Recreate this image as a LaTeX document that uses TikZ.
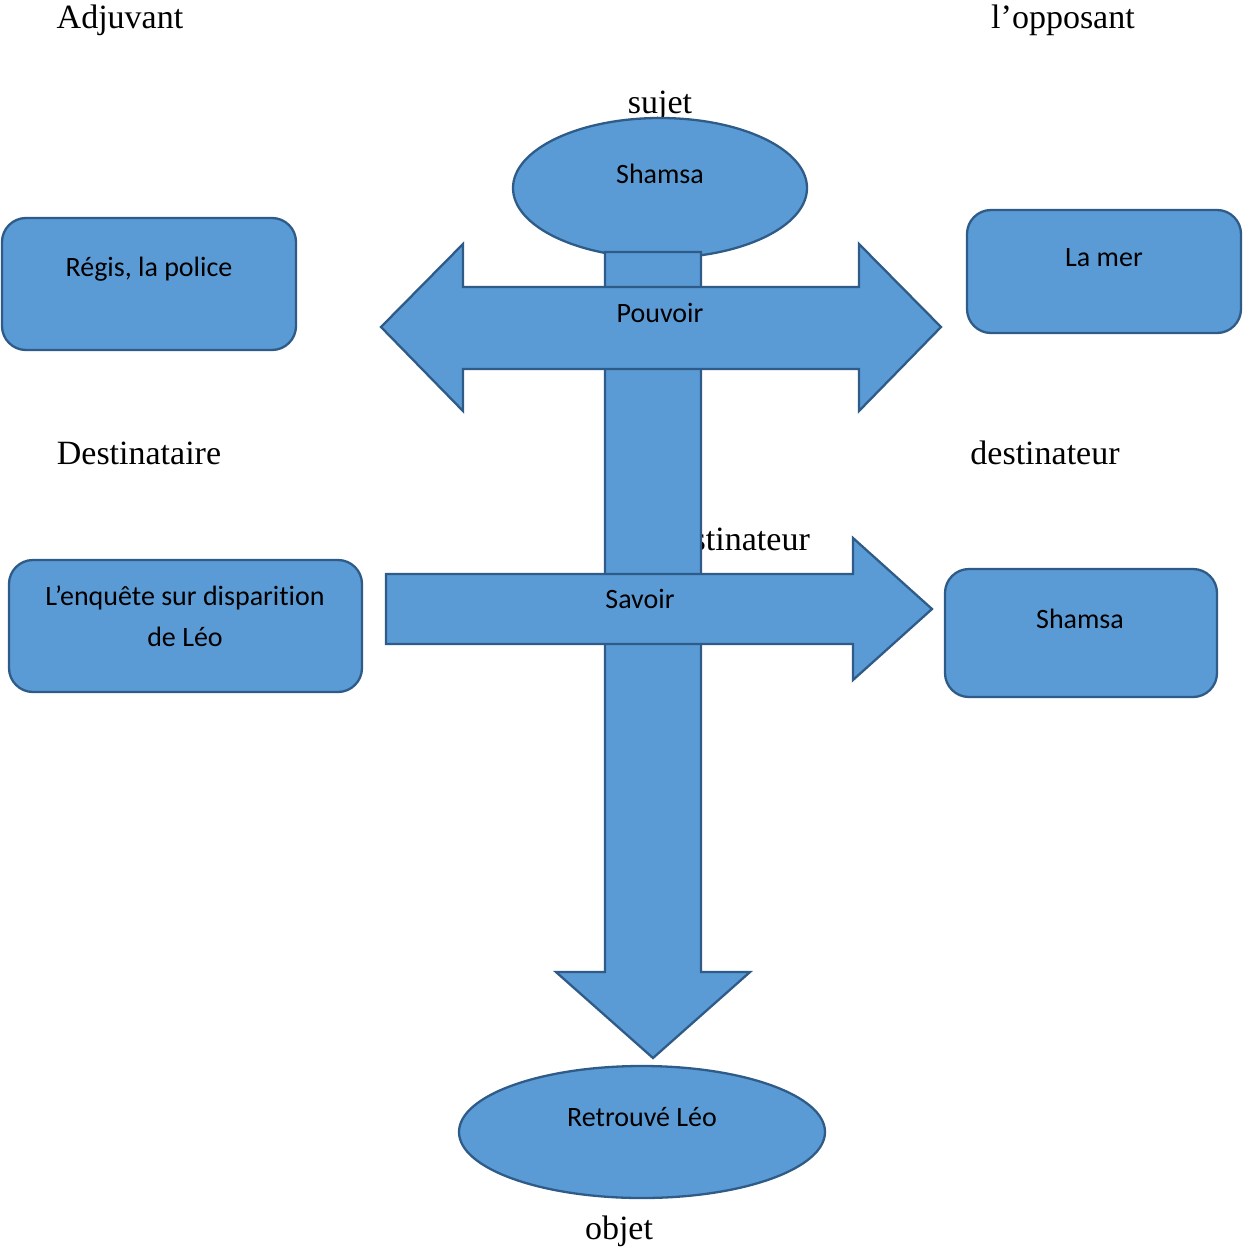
\documentclass[tikz,border=0pt]{standalone}
\usepackage{fontspec}
\setmainfont{Liberation Serif}
\newfontfamily\calfont[RawFeature={-liga;-clig;-calt;-dlig}]{Carlito}
\usetikzlibrary{shapes.geometric}
\definecolor{bfill}{HTML}{5B9BD5}
\definecolor{bline}{HTML}{2E5B88}
\tikzset{
  shp/.style={fill=bfill,draw=bline,line width=2.3pt,line join=miter},
  rbox/.style={shp,rectangle,rounded corners=24pt,inner sep=0pt},
  ell/.style={shp,ellipse,inner sep=0pt},
  role/.style={font=\fontsize{34}{40}\selectfont,inner sep=0pt,anchor=center},
  intext/.style={font=\calfont\fontsize{28}{41}\selectfont,inner sep=0pt,align=center,anchor=center},
}
\begin{document}
\begin{tikzpicture}[x=1pt,y=-1pt]
\useasboundingbox (0,0) rectangle (1242,1247);
% role labels
\node[role] (adj) at (120,20) {Adjuvant};
\node[role] (opp) at (1063,20) {l’opposant};
\node[role] (dest) at (139,453) {Destinataire};
\node[role] (desr) at (1045,453) {destinateur};
\node[role,anchor=east] (desm) at (810,539) {destinateur};
\node[role] (suj) at (660,106) {sujet};
\node[role] (obj) at (619,1231) {objet};
% top ellipse
\node[ell,minimum width=294pt,minimum height=140pt] (sub) at (660,188) {};
\node[intext] (subt) at (660,174) {Shamsa};
% vertical arrow
\draw[shp] (605,252) -- (701,252) -- (701,972) -- (750,972) -- (653,1058) -- (556,972) -- (605,972) -- cycle;
% double arrow
\draw[shp] (381,327) -- (463,244) -- (463,287) -- (859,287) -- (859,244) -- (941,327) -- (859,411) -- (859,369) -- (463,369) -- (463,411) -- cycle;
\node[intext] (pouv) at (660,313) {Pouvoir};
% savoir arrow
\draw[shp] (386,574) -- (853,574) -- (853,538) -- (932,609) -- (853,680) -- (853,644) -- (386,644) -- cycle;
\node[intext] (sav) at (640,599) {Savoir};
% boxes
\node[rbox,minimum width=294pt,minimum height=132pt] (b1) at (149,284) {};
\node[intext] (b1t) at (149,269) {Régis, la police};
\node[rbox,minimum width=274pt,minimum height=123pt] (b2) at (1104,271.5) {};
\node[intext] (b2t) at (1104,258) {La mer};
\node[rbox,minimum width=353pt,minimum height=132pt] (b3) at (185.5,626) {};
\node[intext] (b3t) at (185,616) {L’enquête sur disparition\\de Léo};
\node[rbox,minimum width=272pt,minimum height=128pt] (b4) at (1081,633) {};
\node[intext] (b4t) at (1080,619) {Shamsa};
% bottom ellipse
\node[ell,minimum width=366pt,minimum height=132pt] (objE) at (642,1132) {};
\node[intext] (objt) at (642,1117) {Retrouvé Léo};
\end{tikzpicture}
\end{document}
